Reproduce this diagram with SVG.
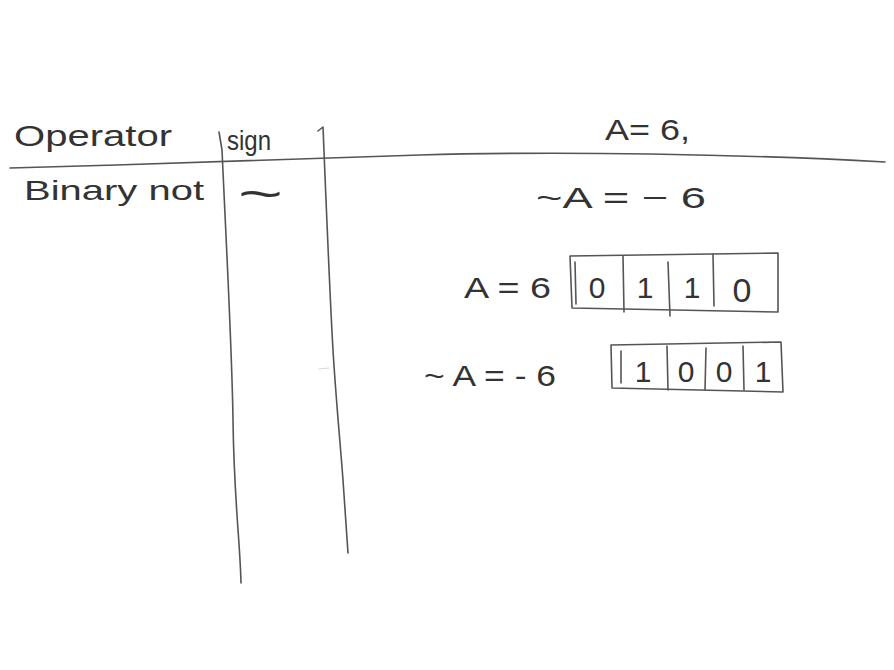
<svg xmlns="http://www.w3.org/2000/svg" width="894" height="670" viewBox="0 0 894 670">
<style>
.ln{fill:none;stroke:#555;stroke-width:1.6;stroke-linecap:round;stroke-linejoin:round}
.t{font-family:"Liberation Sans",Arial,sans-serif;fill:#333;font-weight:normal}
</style>
<rect width="894" height="670" fill="#fff"/>
<g id="table-lines">
<path class="ln" d="M10,168 C150,164 300,160 420,155 C560,151 740,154 885,162"/>
<path class="ln" d="M219,132 L222,150 C227,260 232,350 233,420 C234,500 240,540 241,583"/>
<path class="ln" d="M318,131 L323,127 C326,200 330,300 333,350 C336,400 340,440 343,480 C345,510 347,540 348,553"/>
<path class="ln" d="M319,369 L329,368" style="stroke:#ccc;stroke-width:0.8"/>
</g>
<g id="header">
<text class="t" x="14" y="146" font-size="30" textLength="158" lengthAdjust="spacingAndGlyphs">Operator</text>
<text class="t" x="227" y="150" font-size="27" textLength="44" lengthAdjust="spacingAndGlyphs">sign</text>
<text class="t" x="605" y="140" font-size="30" textLength="85" lengthAdjust="spacingAndGlyphs">A= 6,</text>
</g>
<g id="row">
<text class="t" x="24" y="200" font-size="28" textLength="180" lengthAdjust="spacingAndGlyphs">Binary not</text>
<text class="t" x="238" y="210" font-size="46" textLength="45" lengthAdjust="spacingAndGlyphs">~</text>
<text class="t" x="536" y="208" font-size="30" textLength="170" lengthAdjust="spacingAndGlyphs">~A = − 6</text>
</g>
<g id="a-bits">
<text class="t" x="464" y="298" font-size="30" textLength="87" lengthAdjust="spacingAndGlyphs">A = 6</text>
<path class="ln" d="M570,256 L778,253 L778,312 L572,308 Z"/>
<path class="ln" d="M575,262 L576,304"/>
<path class="ln" d="M623,256 L624,312"/>
<path class="ln" d="M668,262 L670,316"/>
<path class="ln" d="M713,254 L714,306"/>
<text class="t" x="597" y="298" font-size="30" text-anchor="middle">0</text>
<text class="t" x="645" y="298" font-size="30" text-anchor="middle">1</text>
<text class="t" x="692" y="298" font-size="30" text-anchor="middle">1</text>
<text class="t" x="742" y="302" font-size="34" text-anchor="middle">0</text>
</g>
<g id="nota-bits">
<text class="t" x="424" y="386" font-size="30" textLength="132" lengthAdjust="spacingAndGlyphs">~ A = - 6</text>
<path class="ln" d="M611,345 L781,342 L783,392 L612,388 Z"/>
<path class="ln" d="M621,351 L621,383"/>
<path class="ln" d="M667,346 L668,390"/>
<path class="ln" d="M706,348 L705,390"/>
<path class="ln" d="M743,346 L744,390"/>
<text class="t" x="643" y="382" font-size="30" text-anchor="middle">1</text>
<text class="t" x="686" y="382" font-size="30" text-anchor="middle">0</text>
<text class="t" x="724" y="382" font-size="30" text-anchor="middle">0</text>
<text class="t" x="763" y="382" font-size="30" text-anchor="middle">1</text>
</g>
</svg>
